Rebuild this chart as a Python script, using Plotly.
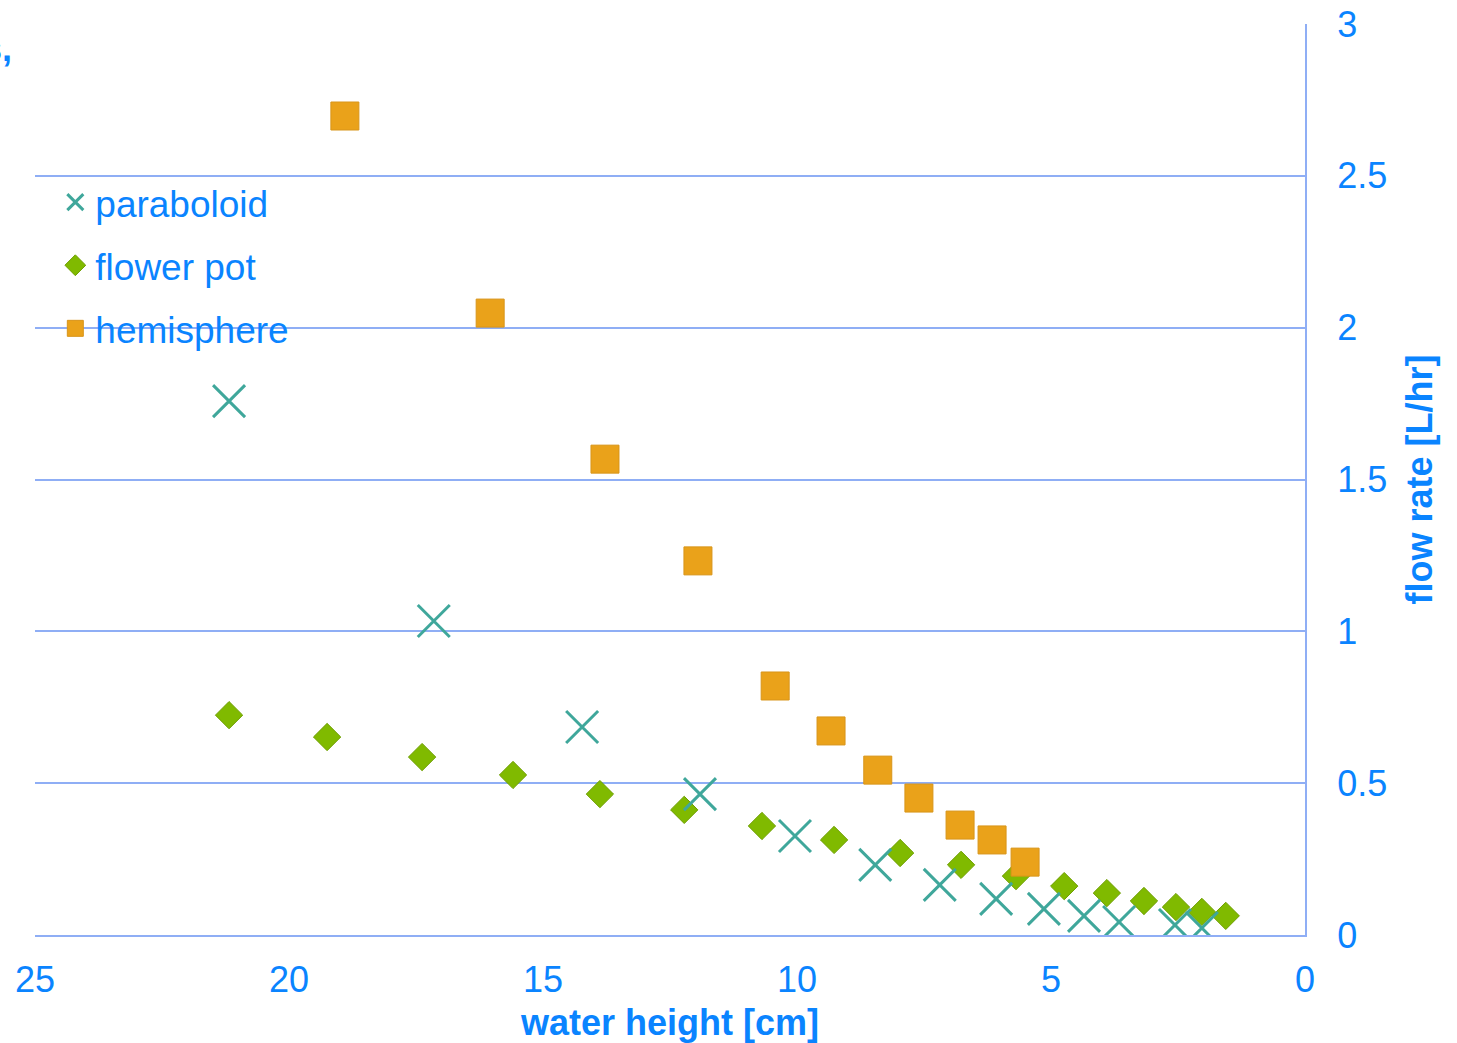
import plotly.graph_objects as go

# ---- data ----
hemi_x = [18.90, 16.04, 13.78, 11.95, 10.43, 9.33, 8.41, 7.60, 6.79, 6.16, 5.51]
hemi_y = [2.697, 2.048, 1.567, 1.232, 0.820, 0.672, 0.543, 0.451, 0.362, 0.313, 0.240]

para_x = [21.18, 17.15, 14.23, 11.91, 10.04, 8.46, 7.19, 6.08, 5.14, 4.35, 3.66, 2.56, 2.03]
para_y = [1.758, 1.034, 0.685, 0.464, 0.326, 0.231, 0.165, 0.119, 0.086, 0.063, 0.043, 0.033, 0.023]

pot_x = [21.18, 19.25, 17.38, 15.59, 13.88, 12.22, 10.69, 9.27, 7.97, 6.77, 5.69, 4.74, 3.90, 3.17, 2.54, 2.03, 1.56]
pot_y = [0.724, 0.652, 0.586, 0.527, 0.464, 0.412, 0.359, 0.313, 0.270, 0.231, 0.194, 0.161, 0.138, 0.112, 0.092, 0.076, 0.063]

y_ticks = [0, 0.5, 1, 1.5, 2, 2.5, 3]
x_ticks = [25, 20, 15, 10, 5, 0]

BLUE = "#0A84FF"
GRID = "#8FAEF5"
FONT = "Liberation Sans, Arial, sans-serif"

fig = go.Figure()
fig.add_trace(go.Scatter(
    x=pot_x, y=pot_y, mode="markers", name="flower pot", legendrank=2,
    legendgroup="b",
    marker=dict(symbol="diamond", size=21, color="#80BA00",
                line=dict(color="#6E9E00", width=1)),
))
fig.add_trace(go.Scatter(
    x=para_x, y=para_y, mode="markers", name="paraboloid", legendrank=1,
    legendgroup="a",
    marker=dict(symbol="x-thin", size=32, color="#3FA79B",
                line=dict(color="#3FA79B", width=3)),
))
fig.add_trace(go.Scatter(
    x=hemi_x, y=hemi_y, mode="markers", name="hemisphere", legendrank=3,
    legendgroup="c",
    marker=dict(symbol="square", size=28, color="#EAA21A",
                line=dict(color="#D8951A", width=1)),
))

fig.update_layout(
    width=1457, height=1043,
    margin=dict(l=35, r=152, t=24, b=108, autoexpand=False),
    paper_bgcolor="white", plot_bgcolor="white",
    font=dict(family=FONT, color=BLUE, size=36),
    showlegend=True,
    legend=dict(
        x=0.016, y=0.838, xanchor="left", yanchor="top",
        bgcolor="rgba(0,0,0,0)", font=dict(size=37, color=BLUE, family=FONT),
        itemsizing="trace", traceorder="grouped", tracegroupgap=12,
        itemwidth=30,
    ),
    xaxis=dict(
        range=[25, 0], tickvals=x_ticks, ticktext=[str(v) for v in x_ticks],
        showgrid=False, zeroline=False, automargin=False,
        showline=True, linecolor=GRID, linewidth=2,
        ticks="", ticklabelstandoff=12,
        tickfont=dict(size=36, color=BLUE, family=FONT),
        title=dict(text="<b>water height [cm]</b>", standoff=14,
                   font=dict(size=36, color=BLUE, family=FONT)),
    ),
    yaxis=dict(
        range=[0, 3], tickvals=y_ticks, ticktext=[f"{v:g}" for v in y_ticks],
        side="right", automargin=False,
        showgrid=True, gridcolor=GRID, gridwidth=2,
        zeroline=False,
        showline=True, linecolor=GRID, linewidth=2,
        ticks="", ticklabelstandoff=23,
        tickfont=dict(size=36, color=BLUE, family=FONT),
        title=dict(text="<b>flow rate [L/hr]</b>", standoff=21,
                   font=dict(size=36, color=BLUE, family=FONT)),
    ),
)

# cut-off fragment of a title at the top-left edge of the reference
fig.add_annotation(
    text="<b>s,</b>", xref="paper", yref="paper",
    x=-35 / 1270 + 14 / 1270, y=1 - 2 / 911, xanchor="right", yanchor="top",
    showarrow=False, font=dict(size=36, color=BLUE, family=FONT),
)

fig.write_html(
    "out.html",
    config={"displayModeBar": False},
    post_script="document.body.style.margin='0';document.body.style.padding='0';",
)
